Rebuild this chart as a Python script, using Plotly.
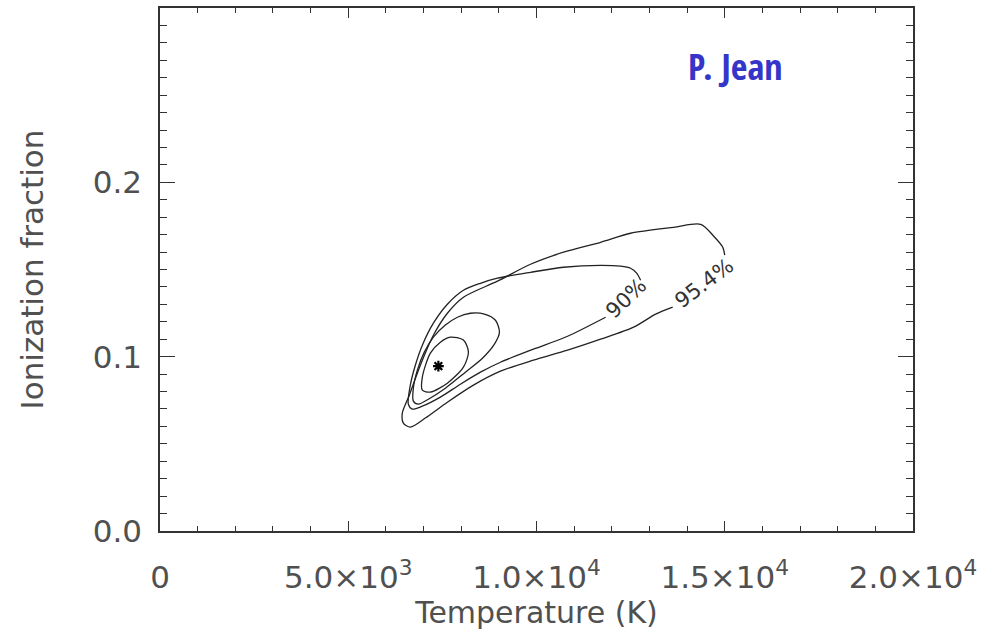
import plotly.graph_objects as go

# Confidence contours in the (temperature, ionization fraction) plane
temp_954 = [13617, 13165, 12580, 11702, 10825, 9920, 9043, 8325, 7633, 7048, 6649, 6463,
            6436, 6622, 6915, 7261, 7633, 8059, 8963, 9841, 10718, 11702, 12500, 13644,
            14362, 14708, 14947, 15000]
frac_954 = [0.1284, 0.1244, 0.1169, 0.1100, 0.1037, 0.0980, 0.0917, 0.0837, 0.0739, 0.0648,
            0.0596, 0.0619, 0.0676, 0.0779, 0.0951, 0.1123, 0.1249, 0.1341, 0.1433, 0.1530,
            0.1599, 0.1656, 0.1708, 0.1742, 0.1759, 0.1691, 0.1628, 0.1582]

temp_90 = [11835, 10825, 9920, 9043, 8511, 7979, 7447, 6968, 6702, 6596, 6649, 6782, 6968,
           7261, 7633, 8059, 8511, 8963, 9841, 10718, 11702, 12234, 12500, 12660, 12766]
frac_90 = [0.1226, 0.1117, 0.1043, 0.0968, 0.0911, 0.0842, 0.0768, 0.0716, 0.0699, 0.0728,
           0.0837, 0.0951, 0.1066, 0.1192, 0.1301, 0.1381, 0.1421, 0.1450, 0.1484, 0.1513,
           0.1524, 0.1519, 0.1507, 0.1479, 0.1438]

temp_mid = [8245, 8617, 8910, 9016, 8883, 8564, 8112, 7580, 7128, 6862, 6729, 6729, 6835,
            7021, 7261, 7580, 7899, 8245]
frac_mid = [0.1249, 0.1244, 0.1209, 0.1140, 0.1072, 0.0991, 0.0911, 0.0819, 0.0756, 0.0728,
            0.0745, 0.0819, 0.0923, 0.1026, 0.1112, 0.1181, 0.1226, 0.1249]

temp_in = [7713, 8059, 8192, 8059, 7633, 7181, 6968, 6968, 7181, 7447, 7713]
frac_in = [0.1112, 0.1095, 0.1026, 0.0940, 0.0848, 0.0797, 0.0808, 0.0883, 0.1020, 0.1083, 0.1112]

best_temp = [7394]
best_frac = [0.0946]

x_tickvals = [0, 5000, 10000, 15000, 20000]
x_ticktext = ["0", "5.0×10<sup>3</sup>", "1.0×10<sup>4</sup>", "1.5×10<sup>4</sup>", "2.0×10<sup>4</sup>"]
y_tickvals = [0.0, 0.1, 0.2]
y_ticktext = ["0.0", "0.1", "0.2"]

LINE = "#222222"
TXT = "#505050"
FONT = "DejaVu Sans"

fig = go.Figure()
for tx, fy in [(temp_954, frac_954), (temp_90, frac_90), (temp_mid, frac_mid), (temp_in, frac_in)]:
    fig.add_trace(go.Scatter(x=tx, y=fy, mode="lines",
                             line=dict(color=LINE, width=1.3, shape="spline", smoothing=0.8),
                             showlegend=False, hoverinfo="skip"))

# best-fit point
fig.add_trace(go.Scatter(x=best_temp, y=best_frac, mode="markers",
                         marker=dict(symbol="asterisk-open", size=9, color="black",
                                     line=dict(color="black", width=2.2)),
                         showlegend=False))

fig.add_annotation(x=12394, y=0.1335, text="90%", showarrow=False, textangle=-44,
                   xanchor="center", yanchor="middle",
                   font=dict(family=FONT, size=21, color="#333333"))
fig.add_annotation(x=14468, y=0.1421, text="95.4%", showarrow=False, textangle=-37,
                   xanchor="center", yanchor="middle",
                   font=dict(family=FONT, size=21, color="#333333"))
fig.add_annotation(x=0.764, y=0.889, xref="paper", yref="paper", text="<b>P. Jean</b>",
                   showarrow=False, xanchor="center", yanchor="middle",
                   font=dict(family="Liberation Sans Narrow, Open Sans Condensed, Arial Narrow, sans-serif",
                             size=36, color="#3535c8"))

axis_common = dict(showline=True, linecolor="#333333", linewidth=1.5, mirror="ticks",
                   ticks="inside", tickcolor="#333333", tickwidth=1.3, showgrid=False,
                   zeroline=False, ticklabeloverflow="allow",
                   tickfont=dict(family=FONT, size=31, color=TXT))

fig.update_xaxes(**axis_common, range=[0, 20000], tickmode="array", tickvals=x_tickvals,
                 ticktext=x_ticktext, ticklen=10, ticklabelstandoff=18,
                 minor=dict(dtick=1000, ticklen=5, ticks="inside", tickcolor="#333333",
                            tickwidth=1.1, showgrid=False),
                 title=dict(text="Temperature (K)", standoff=0,
                            font=dict(family=FONT, size=30, color=TXT)))
fig.update_yaxes(**axis_common, range=[0, 0.3], tickmode="array", tickvals=y_tickvals,
                 ticktext=y_ticktext, ticklen=15, ticklabelstandoff=10,
                 minor=dict(dtick=0.01, ticklen=7, ticks="inside", tickcolor="#333333",
                            tickwidth=1.1, showgrid=False),
                 title=dict(text="Ionization fraction", standoff=40,
                            font=dict(family=FONT, size=31, color=TXT)))

fig.update_layout(width=984, height=635, margin=dict(l=160, r=71, t=8, b=104, autoexpand=False),
                  plot_bgcolor="white", paper_bgcolor="white")

fig.write_html("out.html")
